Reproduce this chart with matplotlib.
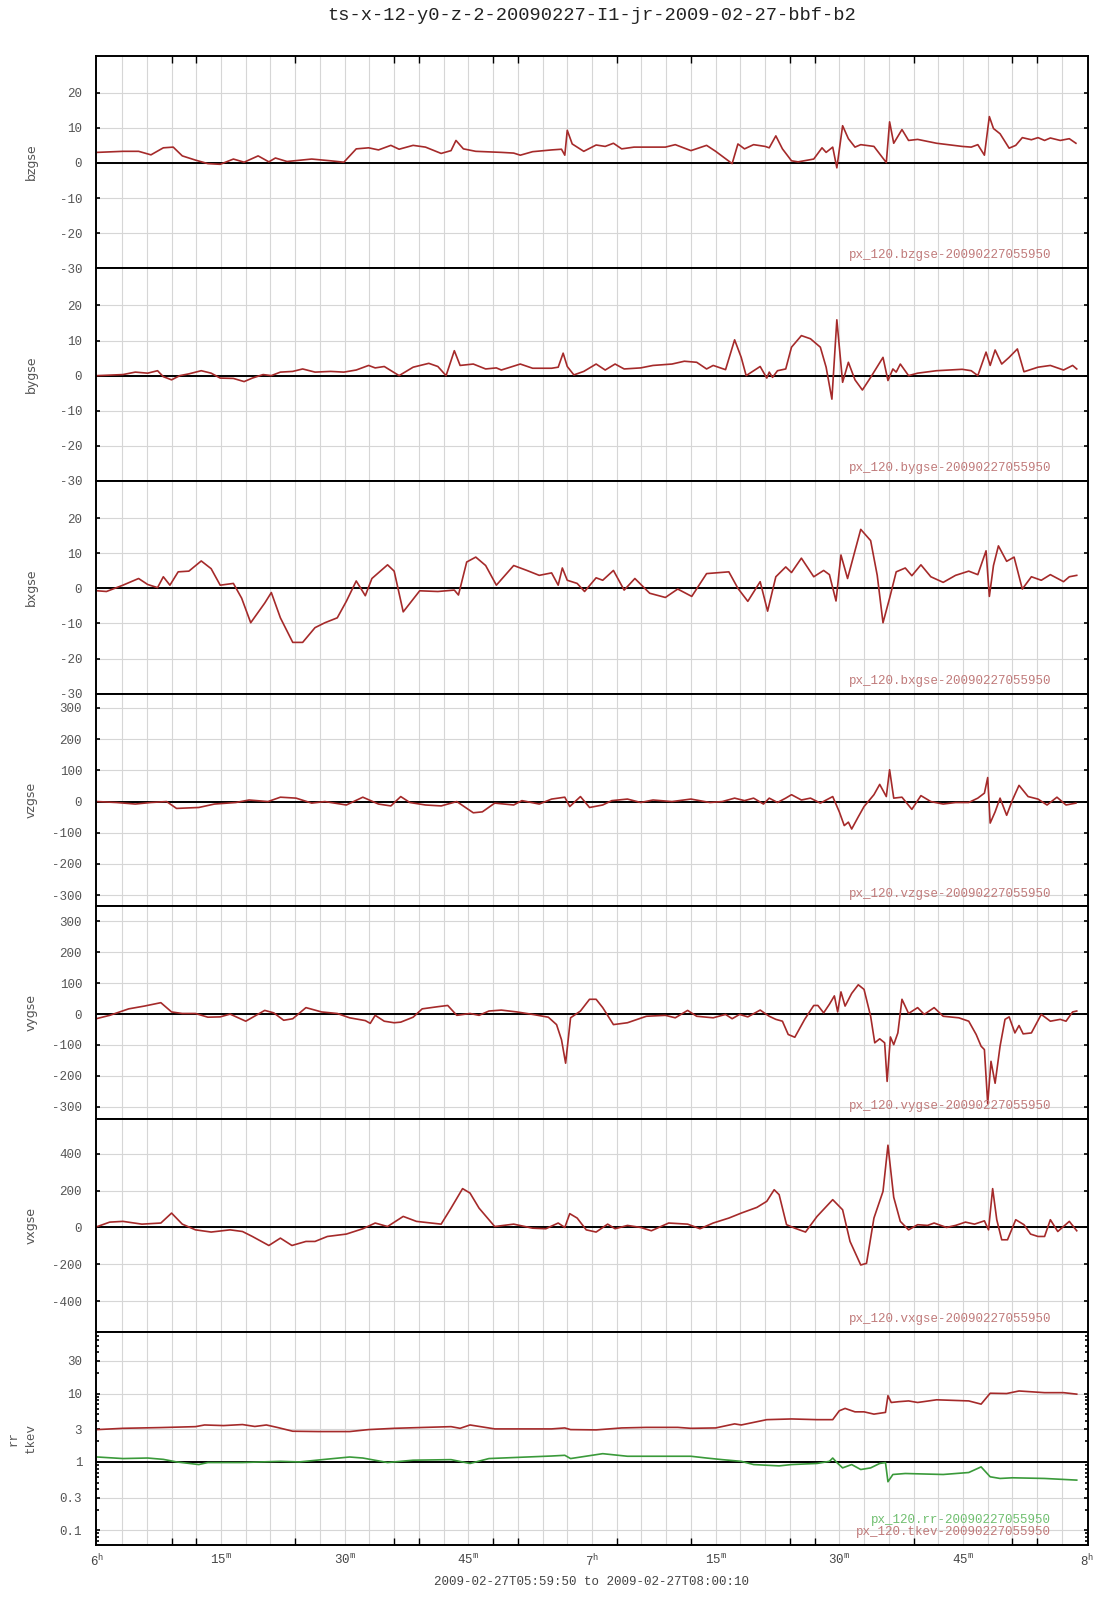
import numpy as np
import matplotlib
matplotlib.use('Agg')
import matplotlib.pyplot as plt
from matplotlib.ticker import FixedLocator, FixedFormatter, LogLocator, NullFormatter

plt.rcParams['font.family'] = ['Liberation Mono', 'DejaVu Sans']
plt.rcParams['mathtext.fontset'] = 'custom'
plt.rcParams['mathtext.rm'] = 'Liberation Mono'
plt.rcParams['mathtext.it'] = 'Liberation Mono'
plt.rcParams['mathtext.bf'] = 'Liberation Mono'

# time in minutes after 06:00
t_bz = [0.0, 3.1, 5.0, 6.5, 8.0, 9.2, 10.3, 11.9, 13.4, 14.9, 16.5, 17.8, 19.5, 20.8, 21.6, 23.0, 26.0, 28.3, 29.9,
        31.4, 32.9, 34.1, 35.6, 36.6, 38.3, 39.8, 41.7, 42.9, 43.5, 44.4, 45.9, 49.0, 50.5, 51.3, 52.8, 55.1, 56.3,
        56.7, 57.0, 57.6, 59.0, 60.5, 61.6, 62.6, 63.6, 65.1, 68.9, 70.1, 72.0, 73.9, 75.0, 77.0, 77.7, 78.5, 79.6,
        81.0, 81.5, 82.3, 83.1, 84.2, 85.0, 86.9, 87.9, 88.4, 89.2, 89.7, 90.4, 91.1, 91.9, 92.6, 94.2, 95.7, 96.1,
        96.6, 97.6, 98.4, 99.5, 101.8, 104.9, 106.0, 106.8, 107.6, 108.2, 108.7, 109.5, 110.6, 111.4, 112.2, 113.3,
        114.1, 114.9, 115.6, 116.8, 117.9, 118.7]
bzgse = [3.0, 3.3, 3.3, 2.3, 4.3, 4.5, 2.0, 0.8, -0.2, -0.4, 1.1, 0.2, 2.0, 0.3, 1.4, 0.4, 1.1, 0.6, 0.2, 4.0, 4.3,
         3.7, 5.0, 3.9, 5.0, 4.5, 2.7, 3.5, 6.4, 4.0, 3.3, 3.0, 2.8, 2.2, 3.2, 3.7, 3.9, 2.2, 9.3, 5.4, 3.3, 5.1, 4.7,
         5.6, 4.0, 4.5, 4.5, 5.2, 3.5, 5.0, 3.3, -0.2, 5.4, 4.0, 5.2, 4.7, 4.3, 7.7, 4.0, 0.6, 0.3, 1.1, 4.3, 3.0,
         4.5, -1.4, 10.6, 6.9, 4.5, 5.2, 4.7, 0.1, 11.7, 5.6, 9.5, 6.4, 6.7, 5.6, 4.7, 4.5, 5.2, 2.2, 13.2, 9.8, 8.3,
         4.2, 5.0, 7.2, 6.6, 7.2, 6.4, 7.1, 6.4, 6.9, 5.6]

t_by = [0.0, 3.1, 4.6, 6.1, 7.3, 8.0, 9.0, 10.0, 11.1, 12.6, 13.8, 14.9, 16.5, 17.8, 18.8, 20.1, 21.1, 22.2, 23.7,
        24.9, 26.4, 28.3, 29.9, 31.4, 32.9, 33.7, 34.8, 36.6, 38.3, 40.2, 41.3, 42.3, 43.3, 44.0, 45.6, 47.1, 48.4,
        49.0, 51.3, 52.8, 55.1, 55.9, 56.5, 57.0, 57.8, 59.0, 60.5, 61.6, 62.8, 63.9, 65.9, 67.4, 69.7, 71.2, 72.7,
        73.9, 74.7, 76.2, 77.3, 78.1, 78.7, 80.4, 81.2, 81.5, 81.9, 82.5, 83.5, 84.2, 85.4, 86.5, 87.7, 88.4, 89.1,
        89.7, 90.4, 91.1, 91.9, 92.8, 93.8, 95.3, 95.9, 96.5, 96.9, 97.4, 98.4, 99.5, 101.8, 104.9, 106.0, 106.8,
        107.8, 108.3, 108.9, 109.7, 110.6, 111.6, 112.4, 114.1, 115.6, 117.2, 118.3, 118.8]
bygse = [0, 0.3, 1.0, 0.7, 1.4, -0.3, -1.2, 0, 0.5, 1.4, 0.7, -0.7, -0.8, -1.7, -0.7, 0.3, 0, 1.0, 1.2, 1.9, 1.0,
         1.2, 1.0, 1.6, 2.9, 2.2, 2.6, 0, 2.4, 3.5, 2.6, 0, 7.1, 2.9, 3.3, 1.9, 2.2, 1.6, 3.3, 2.1, 2.1, 2.4, 6.4,
         2.6, 0.2, 1.2, 3.3, 1.6, 3.3, 1.9, 2.2, 2.9, 3.3, 4.1, 3.8, 1.9, 2.9, 1.7, 10.2, 5.2, 0, 2.6, -0.7, 1.0,
         -0.5, 1.4, 1.9, 8.1, 11.4, 10.5, 8.1, 2.4, -6.7, 15.9, -1.9, 3.8, -1.2, -4.1, -0.5, 5.2, -1.4, 1.9, 1.0,
         3.3, 0, 0.7, 1.4, 1.8, 1.4, 0, 6.7, 2.9, 7.3, 3.3, 5.2, 7.6, 1.1, 2.4, 2.9, 1.6, 2.9, 1.9]

t_bx = [0.0, 1.1, 3.1, 5.0, 6.1, 7.3, 8.0, 8.8, 9.8, 11.1, 12.6, 13.8, 14.9, 16.5, 17.5, 18.6, 20.3, 21.1, 22.2,
        23.7, 24.9, 26.4, 27.6, 29.1, 30.2, 31.4, 32.5, 33.3, 35.2, 36.0, 37.1, 39.1, 41.3, 43.3, 43.8, 44.8, 45.9,
        47.1, 48.4, 50.5, 52.1, 53.6, 55.1, 55.9, 56.4, 57.0, 58.2, 59.1, 60.5, 61.3, 62.6, 63.9, 65.2, 67.0, 68.9,
        70.4, 72.1, 73.9, 76.6, 77.7, 78.9, 80.4, 81.3, 82.3, 83.5, 84.2, 85.4, 86.9, 88.1, 88.8, 89.6, 90.2, 91.0,
        91.9, 92.6, 93.8, 94.6, 95.3, 96.1, 96.9, 98.0, 98.8, 99.9, 101.1, 102.6, 104.1, 105.7, 106.8, 107.8, 108.2,
        108.7, 109.3, 110.3, 111.2, 112.2, 113.3, 114.5, 115.6, 117.2, 117.9, 118.8]
bxgse = [-0.7, -0.9, 0.9, 2.8, 1.1, 0.2, 3.3, 0.9, 4.7, 4.9, 7.8, 5.6, 0.9, 1.4, -2.8, -9.8, -4.2, -1.2, -8.4,
         -15.4, -15.4, -11.2, -9.8, -8.4, -3.7, 2.1, -2.1, 2.8, 6.7, 4.9, -6.7, -0.7, -0.9, -0.5, -1.9, 7.5, 8.9,
         6.5, 0.9, 6.5, 5.1, 3.7, 4.4, 0.9, 5.8, 2.3, 1.4, -0.9, 3.0, 2.3, 5.1, -0.5, 2.8, -1.4, -2.6, -0.2, -2.3,
         4.2, 4.7, 0, -3.7, 1.9, -6.5, 3.3, 6.1, 4.5, 8.6, 3.3, 5.1, 3.9, -3.6, 9.5, 2.8, 10.7, 16.8, 13.6, 3.7,
         -9.8, -2.8, 4.7, 5.8, 3.6, 6.7, 3.3, 1.7, 3.7, 4.9, 3.9, 10.7, -2.3, 6.5, 12.1, 7.7, 8.9, -0.2, 3.3, 2.3,
         3.9, 1.9, 3.3, 3.7]

t_vz = [0.0, 2.3, 4.6, 6.5, 8.4, 9.6, 12.3, 14.2, 16.8, 18.4, 20.7, 22.2, 24.1, 26.0, 27.6, 30.2, 32.2, 34.1, 35.6,
        36.8, 37.9, 39.8, 41.7, 43.6, 45.6, 46.7, 48.2, 50.5, 51.5, 53.6, 55.1, 56.7, 57.3, 58.6, 59.7, 61.3, 62.4,
        64.3, 65.9, 67.4, 69.7, 72.0, 74.3, 75.8, 77.3, 78.5, 79.6, 80.8, 81.5, 82.5, 83.5, 84.2, 85.4, 86.5, 87.7,
        89.2, 90.0, 90.6, 91.1, 91.5, 92.3, 93.0, 94.2, 94.9, 95.7, 96.1, 96.6, 97.6, 98.8, 99.9, 101.1, 102.6,
        104.1, 105.7, 106.8, 107.6, 108.0, 108.3, 108.9, 109.5, 110.3, 111.0, 111.8, 112.9, 114.1, 115.2, 116.4,
        117.5, 118.7]
vzgse = [0, -3, -8, -3, 0, -22, -19, -8, -3, 5, 0, 14, 11, -5, 0, -11, 14, -8, -14, 16, -3, -11, -14, 0, -36, -33,
         -5, -11, 3, -8, 8, 14, -16, 16, -19, -11, 3, 8, -3, 5, 0, 8, -3, 0, 11, 3, 11, -8, 11, -3, 11, 22, 5, 11,
         -5, 16, -33, -77, -66, -88, -49, -16, 22, 55, 16, 102, 11, 14, -25, 19, 0, -8, -3, -3, 11, 27, 77, -69,
         -33, 11, -44, 5, 52, 16, 8, -11, 14, -11, -5]

t_vy = [0.0, 1.5, 3.8, 5.7, 7.7, 9.0, 10.3, 11.9, 13.4, 14.9, 16.1, 18.0, 20.3, 21.4, 22.6, 23.7, 25.3, 27.2, 29.1,
        30.6, 32.5, 33.1, 33.7, 34.8, 36.0, 36.8, 38.3, 39.4, 41.3, 42.5, 43.6, 45.2, 46.3, 47.5, 49.0, 50.9, 52.8,
        54.7, 55.7, 56.3, 56.8, 57.4, 58.6, 59.7, 60.5, 61.3, 62.6, 64.3, 65.5, 66.6, 68.9, 70.1, 71.6, 72.7, 74.7,
        76.2, 77.0, 77.9, 78.9, 80.4, 81.5, 82.3, 83.1, 83.8, 84.6, 85.8, 86.9, 87.4, 88.1, 88.8, 89.4, 89.8, 90.2,
        90.7, 91.5, 92.3, 93.0, 93.8, 94.3, 94.9, 95.5, 95.8, 96.2, 96.6, 97.1, 97.6, 98.4, 99.5, 100.3, 101.5,
        102.6, 104.5, 105.7, 106.6, 107.2, 107.6, 108.0, 108.4, 108.9, 109.5, 110.1, 110.6, 111.3, 111.8, 112.3,
        113.3, 114.5, 115.6, 116.8, 117.5, 118.3, 118.8]
vygse = [-14, -4, 17, 26, 37, 7, 2, 2, -10, -9, 0, -23, 12, 4, -20, -15, 21, 7, 2, -12, -21, -30, -4, -23, -28,
         -26, -10, 17, 24, 28, -4, 2, -4, 10, 13, 7, -1, -10, -34, -83, -159, -12, 10, 48, 48, 21, -34, -28, -17,
         -7, -4, -12, 12, -7, -12, -1, -15, -1, -9, 13, -7, -17, -23, -66, -75, -17, 28, 28, 4, 32, 59, 7, 72, 26,
         67, 95, 80, -7, -93, -80, -93, -218, -74, -99, -61, 48, 2, 21, -1, 21, -7, -12, -23, -66, -104, -115, -290,
         -153, -224, -104, -17, -9, -61, -37, -64, -61, -1, -23, -17, -23, 7, 10]

t_vx = [0.0, 1.5, 3.1, 5.4, 7.7, 9.0, 10.3, 11.9, 13.8, 16.1, 17.6, 18.8, 20.8, 22.2, 23.6, 25.3, 26.4, 27.9, 30.2,
        32.2, 33.7, 35.2, 37.1, 38.7, 41.7, 42.9, 44.3, 45.2, 46.3, 48.2, 50.5, 52.8, 54.4, 55.9, 56.7, 57.3, 58.2,
        59.3, 60.5, 61.9, 62.8, 64.3, 65.9, 67.2, 69.3, 71.6, 73.1, 74.7, 76.6, 78.1, 80.0, 81.2, 82.1, 82.7, 83.6,
        84.6, 85.9, 87.3, 89.2, 90.4, 91.3, 92.6, 93.3, 94.2, 95.3, 95.9, 96.6, 97.4, 98.4, 99.5, 100.7, 101.5,
        103.0, 104.1, 105.3, 106.4, 107.6, 108.1, 108.6, 109.1, 109.7, 110.4, 111.4, 112.4, 113.2, 114.1, 114.9,
        115.6, 116.5, 117.9, 118.8]
vxgse = [5, 29, 33, 18, 24, 78, 18, -13, -25, -13, -22, -49, -98, -58, -98, -76, -76, -49, -36, -7, 24, 5, 60, 33,
         18, 105, 211, 187, 105, 5, 18, -4, -7, 24, 0, 75, 51, -13, -25, 18, -7, 11, 0, -18, 24, 18, -7, 24, 51, 78,
         109, 142, 205, 178, 15, -4, -25, 60, 151, 96, -76, -204, -195, 51, 196, 447, 164, 33, -13, 15, 11, 24, 0,
         11, 29, 18, 36, -13, 211, 42, -67, -67, 42, 15, -36, -49, -49, 42, -22, 33, -18]

t_tk = [0.0, 3.1, 7.7, 11.9, 13.0, 15.3, 17.6, 19.1, 20.5, 21.8, 23.7, 26.8, 30.6, 32.9, 36.0, 39.8, 42.9, 44.0,
        45.2, 48.2, 51.3, 55.1, 56.7, 57.4, 60.5, 63.6, 66.6, 70.4, 72.0, 75.0, 77.3, 78.1, 81.2, 84.2, 87.3, 89.2,
        90.0, 90.7, 91.9, 93.0, 94.2, 95.6, 95.9, 96.3, 97.2, 98.4, 99.5, 101.8, 105.7, 107.2, 108.3, 110.3, 111.8,
        114.9, 117.2, 118.8]
tkev = [2.97, 3.1, 3.18, 3.28, 3.47, 3.4, 3.52, 3.3, 3.47, 3.2, 2.81, 2.78, 2.78, 2.97, 3.1, 3.2, 3.28, 3.1, 3.47,
        3.04, 3.04, 3.04, 3.14, 2.97, 2.94, 3.14, 3.2, 3.2, 3.1, 3.14, 3.6, 3.47, 4.15, 4.25, 4.15, 4.15, 5.6, 6.06,
        5.4, 5.4, 5.0, 5.3, 9.3, 7.4, 7.6, 7.8, 7.4, 8.1, 7.8, 7.0, 10.1, 10.0, 10.9, 10.3, 10.3, 9.8]

t_rr = [0.0, 3.1, 6.1, 8.0, 9.6, 12.3, 13.4, 17.6, 22.2, 24.5, 27.6, 30.6, 32.2, 35.2, 38.3, 42.9, 45.2, 47.5,
        52.1, 55.1, 56.7, 57.4, 61.3, 64.3, 68.9, 72.0, 73.9, 75.8, 78.1, 79.6, 82.7, 84.2, 87.3, 88.8, 89.2, 89.7,
        90.4, 91.5, 92.6, 93.8, 94.9, 95.6, 95.9, 96.5, 98.0, 102.6, 105.7, 107.2, 108.3, 109.5, 111.0, 114.9, 118.8]
rr = [1.18, 1.12, 1.14, 1.09, 1.0, 0.915, 0.98, 0.98, 1.02, 1.0, 1.09, 1.18, 1.14, 0.98, 1.06, 1.08, 0.95, 1.12,
      1.18, 1.22, 1.25, 1.12, 1.32, 1.21, 1.21, 1.21, 1.14, 1.08, 1.02, 0.915, 0.875, 0.915, 0.95, 1.02, 1.14, 0.98,
      0.818, 0.915, 0.774, 0.818, 0.95, 0.98, 0.513, 0.655, 0.677, 0.655, 0.70, 0.846, 0.606, 0.573, 0.586, 0.573,
      0.542]

b_ticks = [-30, -20, -10, 0, 10, 20]
v_ticks = [-300, -200, -100, 0, 100, 200, 300]
vx_ticks = [-400, -200, 0, 200, 400]
log_ticks = [0.1, 0.3, 1, 3, 10, 30]
log_labels = ['0.1', '0.3', '1', '3', '10', '30']
x_label_pos = [0, 15, 30, 45, 60, 75, 90, 105, 120]
x_labels = ['6$^{h}$', '15$^{m}$', '30$^{m}$', '45$^{m}$', '7$^{h}$', '15$^{m}$', '30$^{m}$', '45$^{m}$', '8$^{h}$']
x_marks = [9, 12, 24, 36, 39, 48, 51, 60, 63, 72, 75, 84, 87, 99, 111, 114]

panels = [
    ('bzgse', t_bz, bzgse, (-30, 30.6), b_ticks),
    ('bygse', t_by, bygse, (-30, 30.6), b_ticks),
    ('bxgse', t_bx, bxgse, (-30, 30.6), b_ticks),
    ('vzgse', t_vz, vzgse, (-336, 346), v_ticks),
    ('vygse', t_vy, vygse, (-340, 349), v_ticks),
    ('vxgse', t_vx, vxgse, (-567, 589), vx_ticks),
]

red = '#a52a2a'
green = '#3a9a3a'
gridc = '#d6d6d6'
txtc = '#555555'

W, H = 1107, 1600
fig = plt.figure(figsize=(W / 100, H / 100), dpi=100)
left, right = 96 / W, 1088 / W
top_px, bot_px = 55.5, 1544.5
ph = (bot_px - top_px) / 7

axes = []
for i in range(7):
    y0 = 1 - (top_px + (i + 1) * ph) / H
    ax = fig.add_axes([left, y0, right - left, ph / H])
    axes.append(ax)


def style(ax, first, last):
    ax.set_xlim(-10 / 60, 120 + 10 / 60)
    for s in ax.spines.values():
        s.set_color('black')
        s.set_linewidth(1.4)
    for g in np.arange(3, 120, 3):
        ax.axvline(g, color=gridc, lw=0.8, zorder=0)
    ax.grid(axis='y', which='major', color=gridc, lw=0.8, zorder=0)
    ax.set_axisbelow(True)
    ax.tick_params(axis='y', which='major', direction='in', length=3, width=1.2,
                   left=True, right=True, labelsize=9, labelcolor=txtc, pad=10)
    ax.set_xticks(x_label_pos)
    ax.set_xticks(x_marks, minor=True)
    ax.tick_params(axis='x', which='major', length=0)
    ax.tick_params(axis='x', which='minor', direction='in', length=5, width=1.0,
                   top=first, bottom=last)
    if last:
        ax.set_xticklabels(x_labels)
        ax.tick_params(axis='x', which='major', labelsize=9, labelcolor='#444444', pad=6)
    else:
        ax.set_xticklabels([])


for i, (name, t, v, ylim, ticks) in enumerate(panels):
    ax = axes[i]
    style(ax, i == 0, False)
    ax.set_ylim(*ylim)
    ax.yaxis.set_major_locator(FixedLocator(ticks))
    ax.yaxis.set_major_formatter(FixedFormatter([str(k) for k in ticks]))
    ax.axhline(0, color='black', lw=1.4, zorder=1.5)
    ax.plot(t, v, color=red, lw=1.2, zorder=2)
    ax.text(-0.0655, 0.5, name, transform=ax.transAxes, rotation=90, ha='center', va='center',
            fontsize=9, color=txtc, family='DejaVu Sans')
    ax.text(0.963, 0.06, 'px_120.' + name + '-20090227055950', transform=ax.transAxes,
            ha='right', va='center', fontsize=9, color='#c07a7a')

ax = axes[6]
style(ax, False, True)
ax.set_yscale('log')
ax.set_ylim(0.062, 80)
ax.yaxis.set_major_locator(FixedLocator(log_ticks))
ax.yaxis.set_major_formatter(FixedFormatter(log_labels))
ax.yaxis.set_minor_locator(LogLocator(base=10, subs=np.arange(2, 10)))
ax.yaxis.set_minor_formatter(NullFormatter())
ax.tick_params(axis='y', which='minor', direction='in', length=2, width=1.2, left=True, right=True)
ax.axhline(1, color='black', lw=1.4, zorder=1.5)
ax.plot(t_tk, tkev, color=red, lw=1.2, zorder=2)
ax.plot(t_rr, rr, color=green, lw=1.2, zorder=2)
ax.text(-0.0827, 0.5, 'rr', transform=ax.transAxes, rotation=90, ha='center', va='center',
        fontsize=9, color=txtc)
ax.text(-0.0655, 0.5, 'tkev', transform=ax.transAxes, rotation=90, ha='center', va='center',
        fontsize=9, color=txtc)
ax.text(0.963, 0.117, 'px_120.rr-20090227055950', transform=ax.transAxes,
        ha='right', va='center', fontsize=9, color='#6fbf6f')
ax.text(0.963, 0.061, 'px_120.tkev-20090227055950', transform=ax.transAxes,
        ha='right', va='center', fontsize=9, color='#c07a7a')

fig.text(592 / W, 1 - 15 / H, 'ts-x-12-y0-z-2-20090227-I1-jr-2009-02-27-bbf-b2',
         ha='center', va='center', fontsize=13.5, color='#222222')
fig.text(592 / W, 1 - 1582 / H, '2009-02-27T05:59:50 to 2009-02-27T08:00:10',
         ha='center', va='center', fontsize=9, color='#444444')

fig.savefig('out.png', dpi=100)
